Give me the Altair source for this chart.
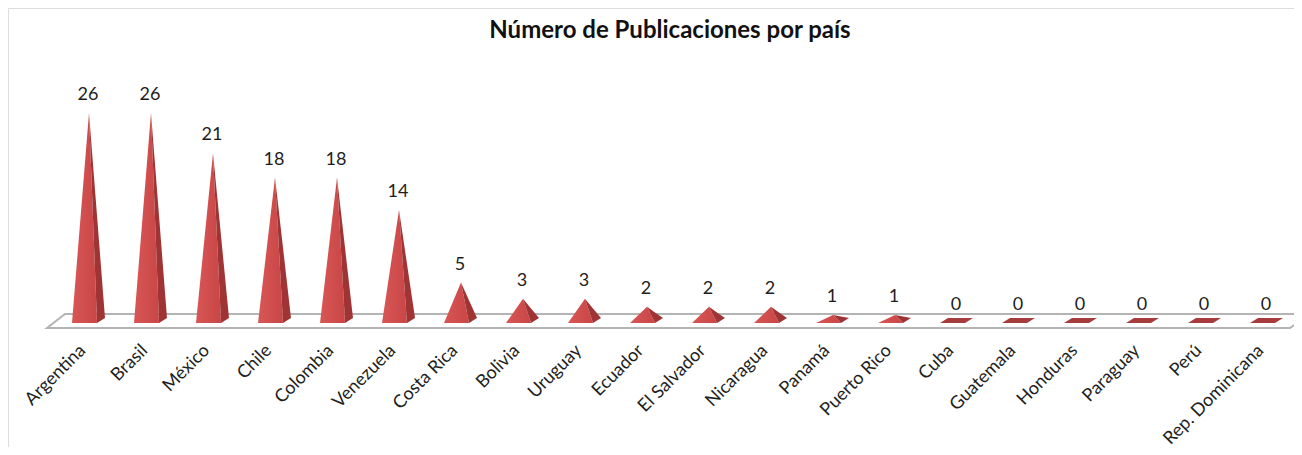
import altair as alt
import pandas as pd

countries = ["Argentina", "Brasil", "México", "Chile", "Colombia", "Venezuela",
             "Costa Rica", "Bolivia", "Uruguay", "Ecuador", "El Salvador",
             "Nicaragua", "Panamá", "Puerto Rico", "Cuba", "Guatemala",
             "Honduras", "Paraguay", "Perú", "Rep. Dominicana"]
values = [26, 26, 21, 18, 18, 14, 5, 3, 3, 2, 2, 2, 1, 1, 0, 0, 0, 0, 0, 0]
title_text = "Número de Publicaciones por país"

W, H = 1286, 439
STEP = 62.0      # px per category
X0 = 80.0        # px of first category centre
BASE = 315.0     # px of baseline from top
PPU = 8.08       # px per value unit
DX = 1 / STEP
DY = 1 / PPU

xs = alt.Scale(domain=[-X0 / STEP, (W - X0) / STEP], nice=False, zero=False)
ys = alt.Scale(domain=[-(H - BASE) / PPU, BASE / PPU], nice=False, zero=False)

front, side, flat = [], [], []
DEPTH = 5 * DY
for i, (c, v) in enumerate(zip(countries, values)):
    if v > 0:
        front += [
            dict(id=c, x=i - 16 * DX, y=0, y2=0),
            dict(id=c, x=i + 1 * DX, y=v, y2=0),
            dict(id=c, x=i + 9 * DX, y=0, y2=0),
        ]
        side += [
            dict(id=c, x=i + 1 * DX, y=v, y2=v),
            dict(id=c, x=i + 9 * DX, y=v + (DEPTH - v) * 0.5, y2=0),
            dict(id=c, x=i + 17 * DX, y=DEPTH, y2=DEPTH),
        ]
    else:
        flat += [
            dict(id=c, x=i - 16 * DX, y=0, y2=0),
            dict(id=c, x=i - 8 * DX, y=DEPTH, y2=0),
            dict(id=c, x=i + 9 * DX, y=DEPTH, y2=0),
            dict(id=c, x=i + 17 * DX, y=DEPTH, y2=DEPTH),
        ]

n = len(countries)
fl = -(X0 - 39) / STEP
fb = -(X0 - 57) / STEP
fr = (n - 1) + 24 / STEP
fr2 = (n - 1) + 44 / STEP
floor = pd.DataFrame([
    dict(id="f", x=fl, y=-5 * DY, y2=-5 * DY),
    dict(id="f", x=fb, y=9 * DY, y2=-5 * DY),
    dict(id="f", x=fr, y=9 * DY, y2=-5 * DY),
    dict(id="f", x=fr2, y=9 * DY, y2=9 * DY),
])


def poly(df, **mk):
    return alt.Chart(pd.DataFrame(df)).mark_area(orient="vertical", **mk).encode(
        x=alt.X("x:Q", scale=xs, axis=None),
        y=alt.Y("y:Q", scale=ys, axis=None, stack=None),
        y2="y2:Q",
        detail="id:N",
    )


floor_l = poly(floor, fill="white", stroke="#b4b4b4", strokeWidth=2)
front_l = poly(front, color=alt.Gradient(
    gradient="linear", x1=0, x2=1, y1=0, y2=0,
    stops=[alt.GradientStop(color="#d85656", offset=0),
           alt.GradientStop(color="#c84646", offset=1)]))
side_l = poly(side, color="#a03434")
flat_l = poly(flat, color="#a63c3c")

lab = pd.DataFrame({"x": list(range(n)), "v": values, "c": countries})

vals_l = alt.Chart(lab).mark_text(
    font="Lato", fontSize=18, color="#1e1e1e", dy=-18, baseline="middle"
).encode(
    x=alt.X("x:Q", scale=xs, axis=None),
    y=alt.Y("v:Q", scale=ys, axis=None),
    text="v:Q",
)

cat_l = alt.Chart(lab).transform_calculate(
    lx="datum.x - 5/62", ly="-3.1"
).mark_text(
    font="Lato", fontSize=18, color="#1e1e1e", angle=315,
    align="right", baseline="middle"
).encode(
    x=alt.X("lx:Q", scale=xs, axis=None),
    y=alt.Y("ly:Q", scale=ys, axis=None),
    text="c:N",
)

title_l = alt.Chart(pd.DataFrame({"t": [title_text]})).mark_text(
    font="Lato", fontSize=24, fontWeight="bold", color="#111111",
    baseline="middle", align="center"
).encode(x=alt.value(662), y=alt.value(23), text="t:N")

chart = alt.layer(floor_l, front_l, side_l, flat_l, vals_l, cat_l, title_l).properties(
    width=W, height=H, autosize=alt.AutoSizeParams(type="none"), padding=0
).configure_view(stroke="transparent", strokeWidth=0).configure(background="white")

chart.save("out.html", embed_options={"renderer": "svg", "actions": False})
